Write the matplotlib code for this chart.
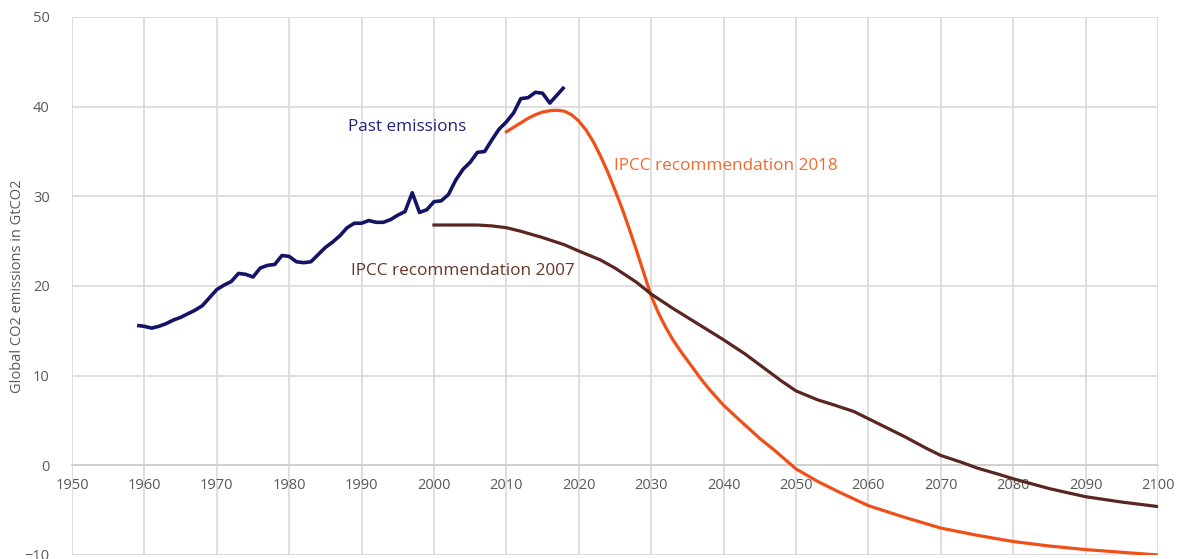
import matplotlib.pyplot as plt

# past emissions (GtCO2)
past_years = list(range(1959, 2019))
past_vals = [15.6, 15.5, 15.3, 15.5, 15.8, 16.2, 16.5, 16.9, 17.3, 17.8, 18.7,
             19.6, 20.1, 20.5, 21.4, 21.3, 21.0, 22.0, 22.3, 22.4, 23.4,
             23.3, 22.7, 22.6, 22.7, 23.5, 24.3, 24.9, 25.6, 26.5, 27.0,
             27.0, 27.3, 27.1, 27.1, 27.4, 27.9, 28.3, 30.4, 28.2, 28.5,
             29.4, 29.5, 30.2, 31.8, 33.0, 33.8, 34.9, 35.0, 36.3, 37.5,
             38.3, 39.3, 40.9, 41.0, 41.6, 41.5, 40.4, 41.3, 42.2]

# IPCC 2018 pathway
y2018 = [2010, 2011, 2012, 2013, 2014, 2015, 2016, 2017, 2018, 2019, 2020,
         2021, 2022, 2023, 2024, 2025, 2026, 2027, 2028, 2029, 2030, 2031,
         2032, 2033, 2034, 2035, 2036, 2037, 2038, 2039, 2040, 2042, 2045,
         2047, 2050, 2053, 2056, 2060, 2065, 2070, 2075, 2080, 2085, 2090,
         2095, 2100]
v2018 = [37.2, 37.7, 38.2, 38.7, 39.1, 39.4, 39.55, 39.6, 39.5, 39.1, 38.4,
         37.4, 36.1, 34.5, 32.7, 30.7, 28.6, 26.3, 23.9, 21.4, 18.9, 17.0,
         15.4, 14.0, 12.8, 11.7, 10.6, 9.5, 8.5, 7.6, 6.7, 5.2, 3.0,
         1.7, -0.4, -1.8, -3.0, -4.5, -5.8, -7.0, -7.8, -8.5, -9.0, -9.4,
         -9.7, -10.0]

# IPCC 2007 pathway
y2007 = [2000, 2003, 2006, 2008, 2010, 2012, 2015, 2018, 2020, 2023, 2025,
         2028, 2030, 2033, 2035, 2038, 2040, 2043, 2045, 2048, 2050, 2053,
         2055, 2058, 2060, 2063, 2065, 2068, 2070, 2073, 2075, 2078, 2080,
         2085, 2090, 2095, 2100]
v2007 = [26.8, 26.8, 26.8, 26.7, 26.5, 26.1, 25.4, 24.6, 23.9, 22.9, 22.0,
         20.4, 19.1, 17.5, 16.5, 15.0, 14.0, 12.4, 11.2, 9.4, 8.3, 7.3,
         6.8, 6.0, 5.2, 4.0, 3.2, 1.9, 1.1, 0.3, -0.3, -1.0, -1.5,
         -2.6, -3.5, -4.1, -4.6]

x_ticks = list(range(1950, 2101, 10))
y_ticks = list(range(-10, 51, 10))

plt.rcParams['font.family'] = ['Open Sans', 'DejaVu Sans']

fig = plt.figure(figsize=(11.84, 5.59), dpi=100)
ax = fig.add_axes([0.0608, 0.0072, 0.9172, 0.9624])

ax.plot(past_years, past_vals, color='#141466', lw=2.6, solid_capstyle='butt', zorder=3)
ax.plot(y2018, v2018, color='#f05018', lw=2.3, zorder=3)
ax.plot(y2007, v2007, color='#5a2622', lw=2.3, zorder=3)

ax.set_xlim(1950, 2100)
ax.set_ylim(-10, 50)
ax.set_xticks(x_ticks)
ax.set_yticks(y_ticks)
ax.grid(True, color='#d9d9d9', lw=1.2)
ax.set_axisbelow(True)

for s in ['top', 'right', 'left']:
    ax.spines[s].set_visible(False)
ax.spines['bottom'].set_position(('data', 0))
ax.spines['bottom'].set_color('#cfcfcf')
ax.spines['bottom'].set_linewidth(1.3)

ax.tick_params(axis='both', length=0, labelsize=10.5, labelcolor='#595959')
ax.tick_params(axis='x', pad=9)
ax.tick_params(axis='y', pad=16)

ax.set_ylabel("Global CO2 emissions in GtCO2", fontsize=10.5, color='#595959', labelpad=0)

ax.text(1988.1, 37.75, "Past emissions", color='#23237a', fontsize=12.3, va='center')
ax.text(2024.9, 33.4, "IPCC recommendation 2018", color='#f06a30', fontsize=12.3, va='center')
ax.text(1988.6, 21.7, "IPCC recommendation 2007", color='#6a3426', fontsize=12.3, va='center')

fig.savefig("out.png", dpi=100)
